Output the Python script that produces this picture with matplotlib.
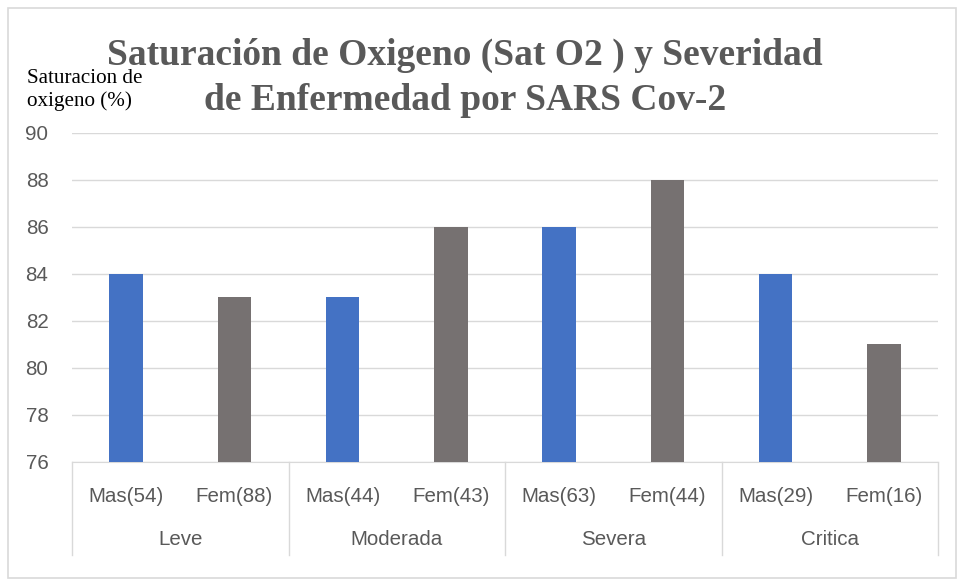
import matplotlib
matplotlib.use("Agg")
import matplotlib.pyplot as plt
import matplotlib.transforms as mtransforms
from matplotlib.patches import Rectangle

# data
grupos = ["Leve", "Moderada", "Severa", "Critica"]
etiquetas = ["Mas(54)", "Fem(88)", "Mas(44)", "Fem(43)",
             "Mas(63)", "Fem(44)", "Mas(29)", "Fem(16)"]
valores = [84, 83, 83, 86, 86, 88, 84, 81]
colores = ["#4472C4", "#767171"] * 4
yticks = [76, 78, 80, 82, 84, 86, 88, 90]
titulo = ["Saturación de Oxigeno (Sat O2 ) y Severidad", "de Enfermedad por SARS Cov-2"]

gris = "#595959"
fs = 14.8
fig = plt.figure(figsize=(9.58, 5.79), dpi=100)
fig.patches.append(Rectangle((8 / 958, 0.002), 948 / 958, 1 - 8 / 579 - 0.002,
                             transform=fig.transFigure, fill=False,
                             edgecolor="#D9D9D9", linewidth=1.2))
ax = fig.add_axes([72 / 958, (579 - 462) / 579, (938 - 72) / 958, (462 - 133) / 579])

x = list(range(len(valores)))
ax.bar(x, [v - 76 for v in valores], bottom=76, width=0.31, color=colores, zorder=3)

ax.set_xlim(-0.5, len(valores) - 0.5)
ax.set_ylim(76, 90)
ax.set_yticks(yticks)
ax.set_yticklabels([str(t) for t in yticks], family="Liberation Sans", fontsize=fs, color=gris)
ax.tick_params(axis="y", length=0, pad=17)
ax.grid(axis="y", color="#D9D9D9", linewidth=1, zorder=0)
for s in ["top", "right", "left"]:
    ax.spines[s].set_visible(False)
ax.spines["bottom"].set_color("#D9D9D9")

ax.set_xticks(x)
ax.set_xticklabels(etiquetas, family="Liberation Sans", fontsize=fs, color=gris)
ax.tick_params(axis="x", length=0, pad=18)

trans = mtransforms.blended_transform_factory(ax.transData, ax.transAxes)
for i, g in enumerate(grupos):
    ax.text(2 * i + 0.5, -0.237, g, transform=trans, ha="center", va="center",
            family="Liberation Sans", fontsize=fs, color=gris)
for k in range(len(grupos) + 1):
    ax.plot([2 * k - 0.5, 2 * k - 0.5], [0, -0.283], transform=trans, color="#D9D9D9",
            linewidth=1, clip_on=False)

# title, one text per line
for linea, yb in zip(titulo, [65, 110]):
    fig.text(465 / 958, 1 - yb / 579, linea, ha="center", va="baseline",
             family="Liberation Serif", fontweight="bold", fontsize=27, color=gris)
fig.text(27 / 958, 1 - 90 / 579, "Saturacion de\noxigeno (%)", ha="left", va="center",
         family="Liberation Serif", fontsize=15.2, color="black", linespacing=1.2)

fig.savefig("out.png", dpi=100)
